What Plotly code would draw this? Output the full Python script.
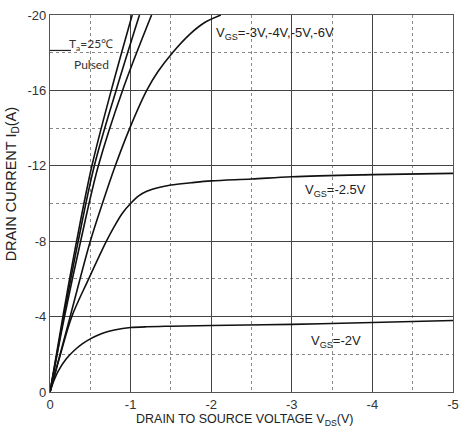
import plotly.graph_objects as go

# ---- data ----
vgs6_v = [0, -0.16, -0.33, -0.52, -0.76, -1.02]
vgs6_i = [0, -4, -8, -12, -16, -20]
vgs5_v = [0, -0.17, -0.35, -0.55, -0.82, -1.11]
vgs5_i = [0, -4, -8, -12, -16, -20]
vgs4_v = [0, -0.18, -0.38, -0.60, -0.90, -1.26]
vgs4_i = [0, -4, -8, -12, -16, -20]
vgs3_v = [0, -0.25, -0.50, -0.65, -0.81, -0.99, -1.20, -1.34, -1.52, -1.74, -1.92, -2.12]
vgs3_i = [0, -4, -8, -10, -12, -14, -16, -17, -18, -19, -19.6, -20]
vgs25_v = [0, -0.13, -0.27, -0.48, -0.70, -0.80, -0.90, -1.0, -1.1, -1.2, -1.35, -1.5, -1.75,
           -2.0, -2.5, -3.0, -4.0, -5.0]
vgs25_i = [0, -2, -4, -6, -8, -8.8, -9.5, -10.0, -10.4, -10.65, -10.85, -10.98, -11.1,
           -11.2, -11.3, -11.42, -11.53, -11.6]
vgs2_v = [0, -0.05, -0.1, -0.2, -0.3, -0.4, -0.5, -0.6, -0.7, -0.8, -0.9, -1.0, -1.2, -1.5,
          -2.0, -3.0, -4.0, -5.0]
vgs2_i = [0, -0.62, -1.1, -1.75, -2.2, -2.55, -2.82, -3.02, -3.18, -3.29, -3.37, -3.42, -3.46,
          -3.49, -3.53, -3.59, -3.69, -3.79]

x_ticks = [0, -1, -2, -3, -4, -5]
y_ticks = [0, -4, -8, -12, -16, -20]

curves = [(vgs6_v, vgs6_i), (vgs5_v, vgs5_i), (vgs4_v, vgs4_i),
          (vgs3_v, vgs3_i), (vgs25_v, vgs25_i), (vgs2_v, vgs2_i)]

fig = go.Figure()
for xv, yv in curves:
    fig.add_trace(go.Scatter(x=xv, y=yv, mode="lines",
                             line=dict(color="#111111", width=1.6, shape="spline", smoothing=1.0),
                             showlegend=False, hoverinfo="skip"))

# short pointer line near Ta label
fig.add_trace(go.Scatter(x=[0, -0.26], y=[-18.12, -18.12], mode="lines",
                         line=dict(color="#222222", width=1.2), showlegend=False, hoverinfo="skip"))

tick_font = dict(family="Liberation Sans, Arial, sans-serif", size=13, color="#333333")

fig.update_xaxes(range=[0, -5], tickvals=x_ticks, ticktext=[str(t) for t in x_ticks],
                 showgrid=True, gridcolor="#444444", gridwidth=1.3,
                 minor=dict(dtick=0.5, tick0=0, showgrid=True, gridcolor="#888888",
                            griddash="dot", gridwidth=1.2),
                 showline=True, linecolor="#555555", linewidth=1.3, mirror=True,
                 zeroline=False, ticks="", tickfont=tick_font)
fig.update_yaxes(range=[0, -20], tickvals=y_ticks, ticktext=[str(t) for t in y_ticks],
                 showgrid=True, gridcolor="#444444", gridwidth=1.3,
                 minor=dict(dtick=2, tick0=0, showgrid=True, gridcolor="#888888",
                            griddash="dot", gridwidth=1.2),
                 showline=True, linecolor="#555555", linewidth=1.3, mirror=True,
                 zeroline=False, ticks="", tickfont=tick_font)

lab_font = dict(family="Liberation Sans, Arial, sans-serif", size=13, color="#222222")
cal_font = dict(family="Lato, Carlito, sans-serif", size=12, color="#333333")

annots = [
    dict(x=-2.035, y=-19.03, text="V<sub>GS</sub>=-3V,-4V,-5V,-6V", font=lab_font),
    dict(x=-3.135, y=-10.7, text="V<sub>GS</sub>=-2.5V", font=lab_font),
    dict(x=-3.21, y=-2.68, text="V<sub>GS</sub>=-2V", font=lab_font),
    dict(x=-0.21, y=-18.45, text="T<sub>a</sub>=25℃", font=cal_font),
    dict(x=-0.27, y=-17.36, text="Pulsed", font=cal_font),
]
for a in annots:
    fig.add_annotation(xref="x", yref="y", xanchor="left", yanchor="middle",
                       showarrow=False, **a)

fig.add_annotation(xref="paper", yref="paper", x=0.485, y=-0.075, xanchor="center", yanchor="middle",
                   text="DRAIN TO SOURCE VOLTAGE V<sub>DS</sub>(V)", showarrow=False,
                   font=dict(family="Liberation Sans, Arial, sans-serif", size=12.5, color="#222222"))
fig.add_annotation(xref="paper", yref="paper", x=-0.095, y=0.55, xanchor="center", yanchor="middle",
                   text="DRAIN CURRENT I<sub>D</sub>(A)", textangle=-90, showarrow=False,
                   font=dict(family="Liberation Sans, Arial, sans-serif", size=14.5, color="#222222"))

fig.update_layout(width=465, height=431, margin=dict(l=50, r=6, t=15, b=39),
                  paper_bgcolor="white", plot_bgcolor="white")

fig.write_html("out.html")
